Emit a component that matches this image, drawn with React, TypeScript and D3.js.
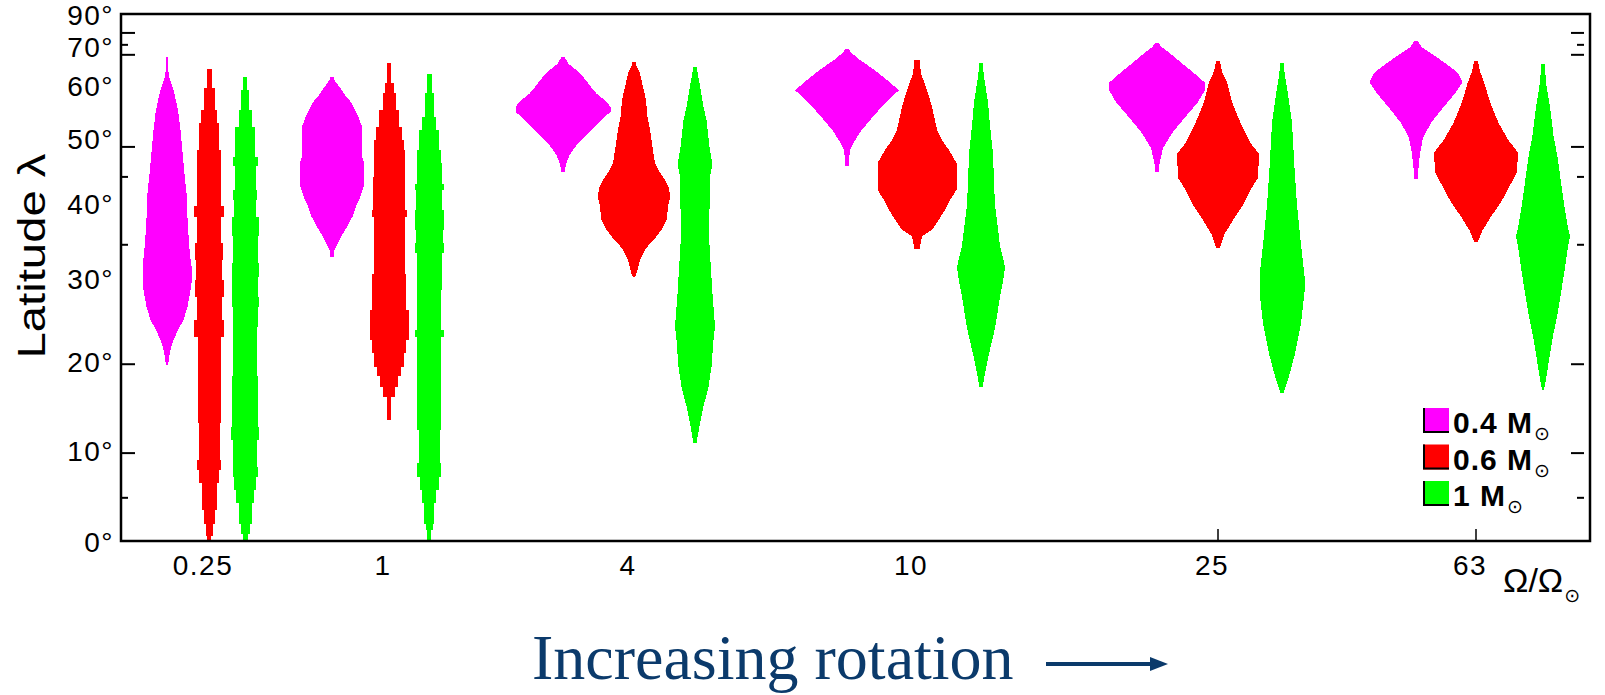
import React from "react";
import * as d3 from "d3";

// ---------- data ----------
const rotationRates = ["0.25", "1", "4", "10", "25", "63"];
const massKeys = ["0.4", "0.6", "1"];
const massColours = ["#ff00ff", "#ff0000", "#00ff00"];
const legendLabels = ["0.4 M", "0.6 M", "1 M"];
const latLabels = [0, 10, 20, 30, 40, 50, 60, 70, 90];
const frameTickLats = [4.7, 9.6, 19.6, 34.2, 43.7, 48.4, 67.3, 70.3, 74.6];
const frameTickMajor = [false, true, true, false, false, true, true, false, true];
const bottomTickRates = ["25", "63"];

// latitude distributions: [latitude (deg), relative width]
const mag025: [number, number][] = [[19.5,2],[20.7,5],[21.6,8],[22.4,13],[23.6,22],[24.8,33],[26.4,41],[28.0,46],[29.3,49],[31.4,49],[32.4,47],[34.4,44],[37.8,41],[41.3,39],[44.2,35],[47.6,31],[51.3,27],[54.2,23],[55.8,20],[58.9,13],[61.5,5],[62.9,3],[66.8,2]];
const red025: [number, number][] = [[0,4],[0.5,7],[1.9,11],[3.4,15],[6.3,20],[7.7,24],[8.8,21],[12.9,23],[22.8,30],[24.8,25],[27.6,29],[29.7,26],[32.2,28],[34.4,24],[38.0,30],[39.4,24],[47.9,20],[52.4,16],[54.9,11],[59.2,5],[63.5,0]];
const grn025: [number, number][] = [[0,5],[0.8,9],[1.9,13],[4.1,18],[5.6,22],[7.0,25],[8.1,24],[11.1,28],[12.5,26],[18.2,24],[24.0,25],[26.4,27],[27.6,26],[30.1,27],[31.8,25],[35.3,27],[38.0,22],[40.3,24],[41.8,21],[45.3,25],[46.8,20],[51.8,13],[54.9,8],[58.8,4],[61.8,0]];

const mag1: [number, number][] = [[32.6,3],[33.5,5],[34.4,12],[35.7,22],[36.6,30],[38.0,41],[39.4,48],[40.3,54],[41.3,59],[42.2,63],[46.0,64],[46.6,61],[51.8,60],[53.6,53],[54.9,46],[56.5,37],[57.5,28],[58.8,20],[59.9,12],[61.0,5],[61.8,3]];
const red1: [number, number][] = [[13.3,4],[15.9,12],[17.0,18],[18.2,24],[19.3,30],[20.9,34],[22.4,39],[26.0,34],[30.4,31],[38.0,35],[38.9,32],[43.7,31],[47.9,30],[49.5,26],[51.8,20],[54.9,13],[58.2,9],[60.3,4],[65.0,0]];
const grn1: [number, number][] = [[0,4],[1.2,7],[1.9,10],[4.1,14],[5.6,19],[7.0,24],[8.5,21],[12.2,24],[22.8,29],[23.6,24],[28.4,25],[33.1,29],[34.4,27],[36.2,29],[38.9,26],[41.8,29],[42.7,25],[45.8,24],[47.9,20],[51.3,14],[53.6,9],[58.2,5],[62.5,0]];

const mag4: [number, number][] = [[44.5,3],[45.8,7],[47.1,13],[47.9,20],[49.0,30],[50.1,43],[51.3,57],[52.4,70],[53.6,83],[54.5,95],[55.5,95],[56.8,83],[58.2,66],[59.9,53],[61.8,40],[63.3,27],[65.0,10],[66.8,3]];
const red4: [number, number][] = [[30.1,2],[30.5,5],[32.2,12],[33.5,22],[34.4,32],[35.3,45],[36.2,55],[37.5,65],[39.8,69],[40.8,73],[42.2,69],[43.2,62],[44.7,49],[45.8,42],[48.4,37],[51.3,32],[53.6,27],[56.8,24],[62.5,12],[64.3,5],[65.4,4]];
const grn4: [number, number][] = [[10.7,3],[12.9,10],[14.8,17],[17.0,27],[19.3,33],[22.4,37],[24.0,40],[28.0,35],[33.1,30],[36.6,27],[40.3,30],[44.2,31],[45.5,35],[48.4,29],[53.0,23],[55.5,17],[60.3,9],[64.1,3]];

const mag10: [number, number][] = [[45.3,3],[47.9,6],[49.5,16],[51.3,30],[53.0,46],[54.9,64],[56.2,76],[57.5,90],[58.8,104],[59.5,96],[61.0,80],[62.5,64],[64.1,46],[65.9,26],[67.7,10],[69.0,3]];
const red10: [number, number][] = [[33.7,5],[35.3,10],[36.2,30],[37.5,43],[38.9,56],[40.3,66],[41.8,79],[45.8,79],[47.9,64],[49.5,50],[51.3,40],[55.5,30],[58.8,20],[62.5,8],[65.9,5]];
const grn10: [number, number][] = [[17.0,3],[18.5,8],[20.3,14],[23.8,28],[27.6,38],[29.5,44],[31.2,48],[32.5,44],[34.1,38],[39.6,28],[43.0,26],[47.3,24],[52.0,18],[56.4,14],[61.0,7],[65.1,3]];

const mag25: [number, number][] = [[44.4,3],[45.7,5],[48.2,12],[50.7,30],[53.4,55],[56.4,82],[59.0,97],[60.5,95],[62.5,75],[65.0,50],[67.5,28],[69.5,10],[70.9,3]];
const red25: [number, number][] = [[33.8,4],[35.5,12],[37.5,30],[39.6,50],[42.7,72],[43.5,80],[47.3,82],[49.0,65],[52.5,45],[56.4,28],[60.6,18],[63.0,8],[65.6,4]];
const grn25: [number, number][] = [[16.3,3],[17.8,12],[20.6,25],[24.4,38],[28.2,45],[30.2,45],[34.2,38],[39.6,30],[45.0,25],[52.5,20],[58.0,12],[62.0,6],[65.1,3]];

const mag63: [number, number][] = [[43.4,3],[45.0,5],[47.3,8],[49.9,14],[52.5,30],[55.4,55],[58.4,80],[60.5,93],[62.5,85],[64.0,70],[66.8,40],[69.5,12],[71.7,3]];
const red63: [number, number][] = [[34.6,4],[36.0,12],[38.0,30],[40.0,50],[43.0,72],[44.5,82],[47.5,84],[49.5,65],[52.5,45],[56.4,28],[60.6,16],[63.0,8],[65.6,4]];
const grn63: [number, number][] = [[16.7,2],[17.9,6],[20.4,13],[22.9,20],[25.5,29],[28.1,36],[30.8,43],[33.5,49],[35.4,54],[36.4,50],[39.3,43],[42.4,37],[46.8,29],[50.3,21],[55.4,14],[59.8,7],[64.8,3]];

const profilesByRate: [number, number][][][] = [
  [mag025, red025, grn025],
  [mag1, red1, grn1],
  [mag4, red4, grn4],
  [mag10, red10, grn10],
  [mag25, red25, grn25],
  [mag63, red63, grn63],
];
const steppedProfiles = [red025, grn025, red1, grn1];

// ---------- layout ----------
const W = 1605, H = 695;
const M = { left: 121, right: 1590, top: 14, bottom: 541 };

export default function App() {
  const sinScale = d3.scaleLinear().domain([0, 1]).range([M.bottom, M.top]);
  const y = (lat: number) => sinScale(Math.sin((lat * Math.PI) / 180));
  const xRate = d3.scaleOrdinal<string, number>().domain(rotationRates).range([209, 389, 634, 917, 1218, 1476]);
  const xSpread = d3.scaleOrdinal<string, number[]>().domain(rotationRates)
    .range([[-42, 0, 36], [-57, 0, 40], [-71, 0, 61], [-70, 0, 64], [-61, 0, 64], [-60, 0, 67]]);
  const widthScale = d3.scaleLinear().domain([0, 100]).range([0, 100]);

  const expandSteps = (p: [number, number][]) => {
    const out: [number, number][] = [];
    for (let i = 0; i < p.length - 1; i++) {
      out.push([p[i][0], p[i][1]]);
      out.push([p[i + 1][0], p[i][1]]);
    }
    return out;
  };

  const violins: { d: string; fill: string; key: string }[] = [];
  rotationRates.forEach((rate, gi) => {
    massKeys.forEach((m, mi) => {
      const prof = profilesByRate[gi][mi];
      const cx = xRate(rate) + xSpread(rate)[mi];
      const pts = steppedProfiles.includes(prof) ? expandSteps(prof) : prof;
      const area = d3.area<[number, number]>()
        .curve(d3.curveLinear)
        .y((d) => y(d[0]))
        .x0((d) => cx - widthScale(d[1]) / 2)
        .x1((d) => cx + widthScale(d[1]) / 2);
      violins.push({ d: area(pts) || "", fill: massColours[mi], key: rate + "-" + m });
    });
  });

  const sans = "'Liberation Sans', Arial, sans-serif";

  return (
    <svg width={W} height={H} style={{ position: "absolute", left: 0, top: 0, background: "#fff" }}>
      <rect x={0} y={0} width={W} height={H} fill="#fff" />
      <g shapeRendering="crispEdges">
        {violins.map((v) => (
          <path key={v.key} d={v.d} fill={v.fill} />
        ))}
      </g>

      {/* frame */}
      <rect x={M.left} y={M.top} width={M.right - M.left} height={M.bottom - M.top}
        fill="none" stroke="#000" strokeWidth={2.5} />

      {/* left ticks */}
      {frameTickLats.map((lat, i) => (
        <line key={"lt" + i} x1={M.left} x2={M.left + (frameTickMajor[i] ? 14 : 7)}
          y1={y(lat)} y2={y(lat)} stroke="#000" strokeWidth={2} />
      ))}
      {/* right ticks */}
      {frameTickLats.map((lat, i) => (
        <line key={"rt" + i} x1={M.right - 6 - (frameTickMajor[i] ? 13 : 7)} x2={M.right - 6}
          y1={y(lat)} y2={y(lat)} stroke="#000" strokeWidth={2} />
      ))}
      {/* bottom ticks */}
      {bottomTickRates.map((r) => (
        <line key={"bt" + r} x1={xRate(r)} x2={xRate(r)} y1={M.bottom} y2={M.bottom - 12}
          stroke="#000" strokeWidth={1.5} />
      ))}

      {/* y labels */}
      {latLabels.map((lat) => (
        <text key={"yl" + lat} x={114} y={y(lat) + 4} textAnchor="end" dominantBaseline="middle"
          fontFamily={sans} fontSize={28} letterSpacing={1.5} fill="#000">
          {lat + "°"}
        </text>
      ))}
      <text transform={`translate(45,256) rotate(-90)`} textAnchor="middle" fontFamily={sans}
        fontSize={38} textLength={205} lengthAdjust="spacingAndGlyphs" fill="#000">
        Latitude λ
      </text>

      {/* x labels */}
      {rotationRates.map((r) => (
        <text key={"xl" + r} x={xRate(r) - 6} y={575} textAnchor="middle" fontFamily={sans}
          fontSize={28} letterSpacing={1.5} fill="#000">
          {r}
        </text>
      ))}
      <text x={1503} y={592} fontFamily={sans} fontSize={34} fill="#000">
        Ω/Ω
        <tspan fontFamily="'DejaVu Sans'" fontSize={19} dy={10} dx={1}>⊙</tspan>
      </text>

      {/* legend */}
      {legendLabels.map((lab, i) => {
        const top = 408 + i * 36.5;
        return (
          <g key={"lg" + i}>
            <rect x={1423} y={top} width={26} height={25} fill={massColours[i]} />
            <polyline points={`1424,${top} 1424,${top + 24} 1449,${top + 24}`} fill="none"
              stroke="#000" strokeWidth={2} />
            <text x={1453} y={top + 25} fontFamily={sans} fontWeight="bold" fontSize={30}
              letterSpacing={1} fill="#000">
              {lab}
              <tspan fontFamily="'DejaVu Sans'" fontWeight="normal" fontSize={19} dy={7} dx={1}>⊙</tspan>
            </text>
          </g>
        );
      })}

      {/* caption */}
      <text x={532} y={679} fontFamily="'Liberation Serif', 'Times New Roman', serif" fontSize={64}
        fill="#0b3a6b">
        Increasing rotation
      </text>
      <line x1={1046} x2={1152} y1={664} y2={664} stroke="#0b3a6b" strokeWidth={4} />
      <polygon points="1150,657 1168,664 1150,671" fill="#0b3a6b" />
    </svg>
  );
}
